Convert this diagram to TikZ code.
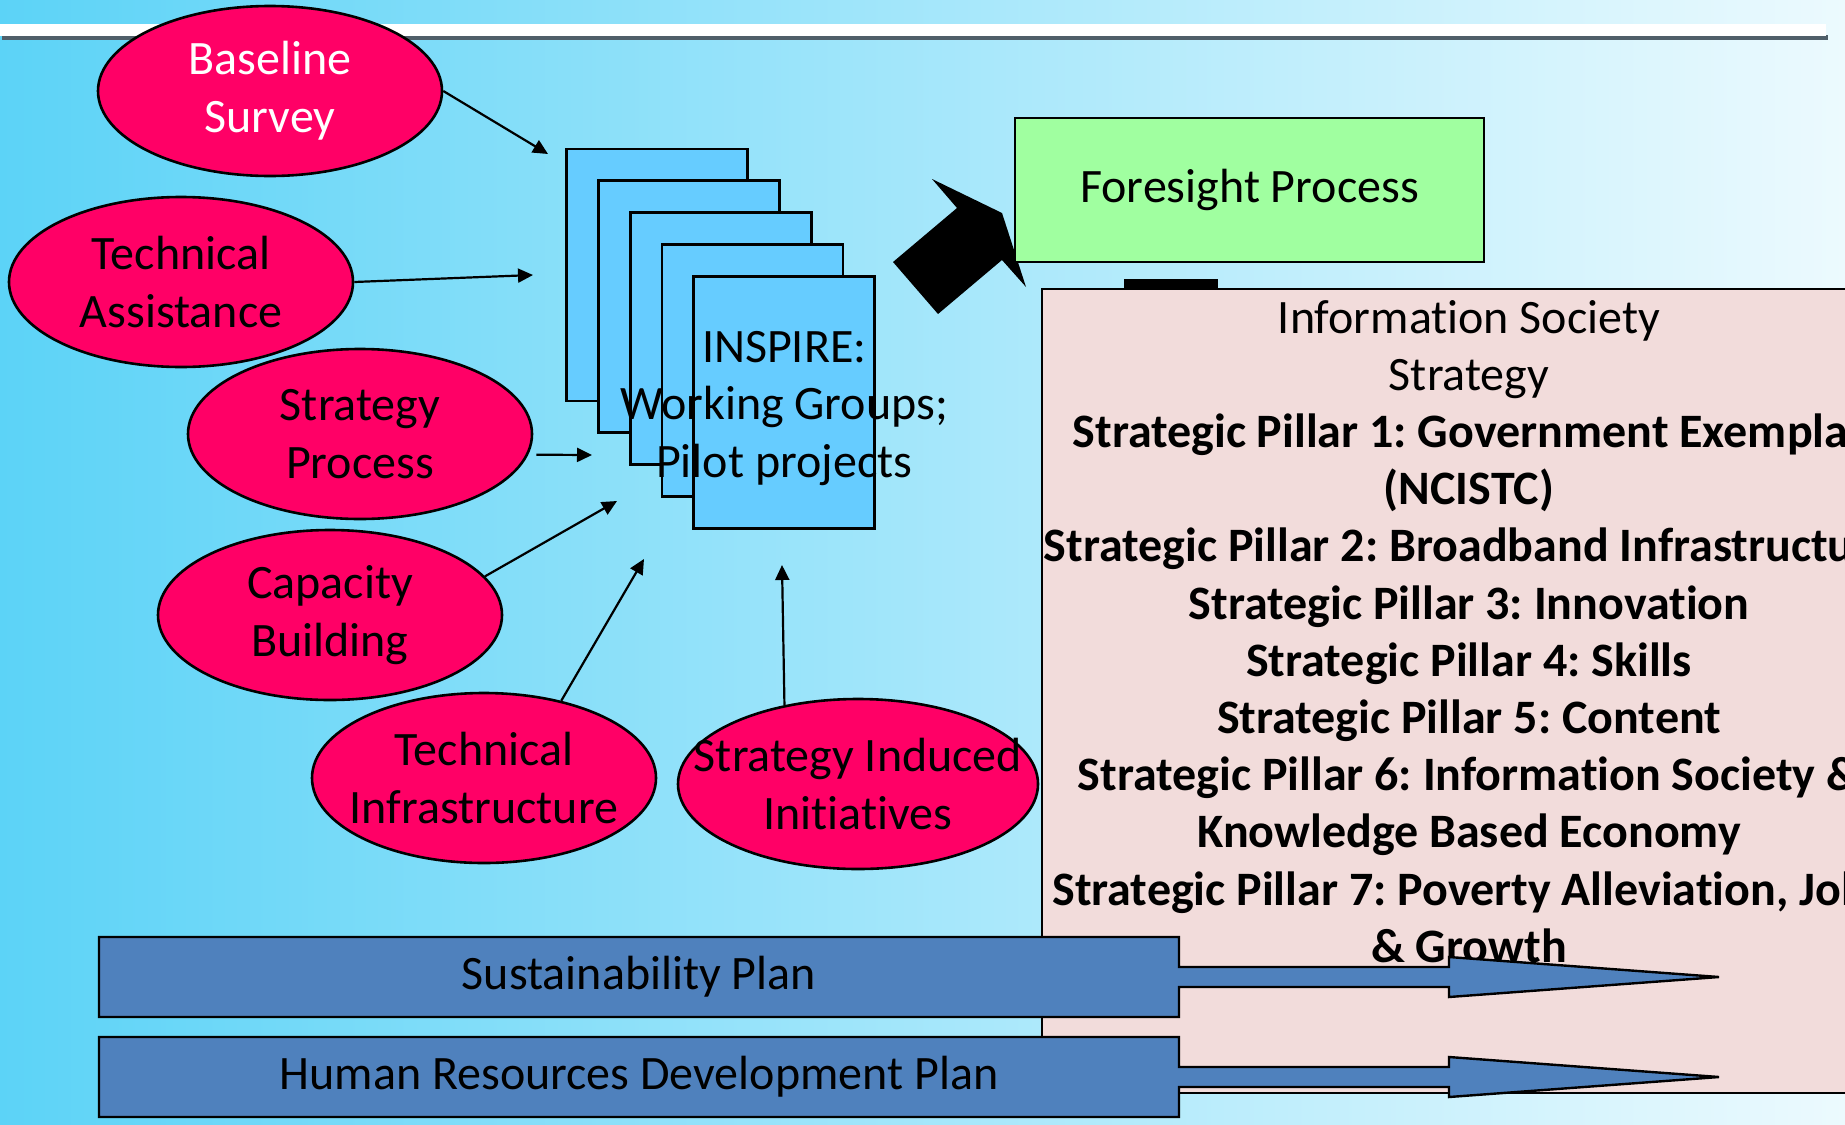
\documentclass[tikz,border=0pt]{standalone}
\usepackage{fontspec}
\setmainfont{Carlito}[Ligatures=NoCommon]
\usepackage{tikz}
\usetikzlibrary{shapes.geometric,arrows.meta,positioning}
\frenchspacing

\definecolor{bgleft}{RGB}{92,211,247}
\definecolor{bgmid}{RGB}{165,232,251}
\definecolor{bgright}{RGB}{236,250,254}
\definecolor{barshade}{RGB}{80,95,105}
\definecolor{bubblered}{RGB}{255,0,102}
\definecolor{pagecyan}{RGB}{102,204,255}
\definecolor{foregreen}{RGB}{160,255,160}
\definecolor{stratpink}{RGB}{242,220,219}
\definecolor{planblue}{RGB}{79,129,189}

\tikzset{
  txt/.style={align=center, font=\fontsize{24}{29}\selectfont},
  bubble/.style={ellipse, draw, line width=1.3pt, fill=bubblered,
    minimum width=172pt, minimum height=85pt, inner sep=0pt},
  page/.style={rectangle, draw, line width=1.4pt, fill=pagecyan,
    minimum width=90.5pt, minimum height=126pt, inner sep=0pt},
  feed/.style={-{Triangle[length=7.5pt,width=7pt]}, line width=1.1pt},
  plan/.style={draw, line width=1.2pt, fill=planblue},
}

\begin{document}
\begin{tikzpicture}[x=0.5pt, y=-0.5pt]
  \useasboundingbox (0,0) rectangle (1845,1124);
  \clip (0,0) rectangle (1845,1124);
  \shade[left color=bgleft, middle color=bgmid, right color=bgright] (0,0) rectangle (1845,1124);
  % title rule
  \fill[barshade] (2,35) rectangle (1828,40);
  \fill[white] (0,24) rectangle (1826,36);

  % inputs
  \node[bubble, label={[txt, text=white]center:Baseline\\Survey}] (survey) at (270,91) {};
  \node[bubble, label={[txt]center:Technical\\Assistance}] (assist) at (181,282) {};
  \node[bubble, label={[txt]center:Strategy\\Process}] (process) at (360,434) {};
  \node[bubble, label={[txt]center:Capacity\\Building}] (capacity) at (330,615) {};
  \node[bubble, label={[txt]center:Technical\\Infrastructure}] (infra) at (484,778) {};
  \node[bubble, minimum width=180pt, label={[txt]center:Strategy Induced\\Initiatives}] (induced) at (858,784) {};

  \coordinate (in1) at (548,154);
  \coordinate (in2) at (533,275);
  \coordinate (in3) at (592,455);
  \coordinate (in4) at (617,501);
  \coordinate (in5) at (644,559);
  \coordinate (in6) at (782,565);

  \draw[feed] (survey.east) -- (in1);
  \draw[feed] (assist.east) -- (in2);
  \draw[feed, shorten <=4pt] (process.-7) -- (in3);
  \draw[feed] (capacity.14) -- (in4);
  \draw[feed] (infra.45) -- (in5);
  \draw[feed] (induced.133) -- (in6);

  % INSPIRE stack
  \foreach \i in {0,...,4}
    \node[page] (p\i) at (657+31.8*\i, 275+31.8*\i) {};
  \node[txt, font=\fontsize{24}{28.8}\selectfont] (inspire) at ([yshift=-3pt]p4.center) {INSPIRE:\\Working Groups;\\Pilot projects};

  % big arrow to foresight
  \fill (932,179) -- (1002,213) -- (1026,287) -- (1002,260) -- (938,314) -- (893,262) -- (957,208) -- cycle;
  \node[draw, line width=1.4pt, fill=foregreen, minimum width=234.5pt, minimum height=72pt,
    font=\fontsize{24}{29}\selectfont] (foresight) at (1249.5,190) {Foresight Process};

  % strategy box
  \fill (1124,279) rectangle (1218,291);
  \node[draw, line width=1.4pt, fill=stratpink, minimum width=427pt, minimum height=402pt,
    inner sep=0pt] (strategy) at (1469,691) {};
  \node[txt, inner sep=0pt, below=6pt of strategy.north, font=\fontsize{24}{28.6}\selectfont] (pillars) {%
    Information Society\\
    Strategy\\
    \textbf{Strategic Pillar 1: Government Exemplar}\\
    \textbf{(NCISTC)}\\
    \textbf{Strategic Pillar 2: Broadband Infrastructure}\\
    \textbf{Strategic Pillar 3: Innovation}\\
    \textbf{Strategic Pillar 4: Skills}\\
    \textbf{Strategic Pillar 5: Content}\\
    \textbf{Strategic Pillar 6: Information Society \&}\\
    \textbf{Knowledge Based Economy}\\
    \textbf{Strategic Pillar 7: Poverty Alleviation, Jobs}\\
    \textbf{\& Growth}};

  % plans
  \foreach \y/\name/\words in {977/sustain/Sustainability Plan, 1077/hrd/Human Resources Development Plan} {
    \draw[plan] (99,\y-40) -- (1179,\y-40) -- (1179,\y-10) -- (1449,\y-10) -- (1449,\y-20)
      -- (1719,\y) -- (1449,\y+20) -- (1449,\y+10) -- (1179,\y+10) -- (1179,\y+40) -- (99,\y+40) -- cycle;
    \node[txt] (\name) at (639,\y) {\words};
  }
\end{tikzpicture}
\end{document}
